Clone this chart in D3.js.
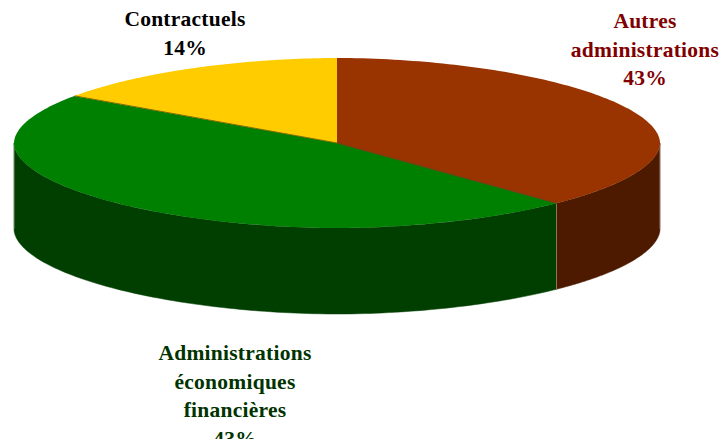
<!DOCTYPE html>
<html><head><meta charset="utf-8">
<script src="https://cdn.jsdelivr.net/npm/d3@7"></script>
<style>html,body{margin:0;padding:0;background:#fff}svg{display:block}</style>
</head><body><svg id="c" width="723" height="439"></svg>
<script>
const categories = ["Autres administrations", "Administrations économiques financières", "Contractuels"];
const values = [43, 43, 14];
const topColors = ["#993300", "#008000", "#FFCC00"];
const sideColors = ["#4D1A00", "#003F00", "#806600"];
const labelColors = ["#800000", "#003300", "#000000"];
const labelLines = [["Autres", "administrations", "43%"], ["Administrations", "économiques", "financières", "43%"], ["Contractuels", "14%"]];
const labelPos = [[645, 28], [235, 360], [185, 26]];
const drawnAngles = [0, 136.2, 304.3, 360]; // tilted view: where the slice edges fall on screen

const svg = d3.select("#c");
const cx = 337, cy = 143, rx = 323, ry = 85, depth = 86, n = 1.9;
const arcs = d3.pie().sort(null).value(d => d)(values);
const tau = 2 * Math.PI;
const warp = d3.scaleLinear()
  .domain([0, arcs[0].endAngle, arcs[1].endAngle, tau])
  .range(drawnAngles.map(d => d * Math.PI / 180));

// angle in screen ellipse space -> point on the rim
const rim = (a, dy = 0) => {
  const s = Math.sin(a), c = Math.cos(a);
  const k = Math.pow(Math.pow(Math.abs(s), n) + Math.pow(Math.abs(c), n), -1 / n);
  return [cx + rx * s * k, cy - ry * c * k + dy];
};
const span = (a, b, dy = 0) => d3.range(0, 121).map(i => rim(a + (b - a) * i / 120, dy));
const line = d3.line();

// side walls (only the front half of the rim is visible)
const frontA = Math.PI / 2, frontB = 3 * Math.PI / 2;
arcs.forEach((d, i) => {
  const a = Math.max(warp(d.startAngle), frontA), b = Math.min(warp(d.endAngle), frontB);
  if (b <= a) return;
  const pts = span(a, b).concat(span(b, a, depth));
  svg.append("path").attr("d", line(pts) + "Z").attr("fill", sideColors[i]).attr("stroke", sideColors[i]).attr("stroke-width", 0.5);
});
// light edges on the wall
[[warp(arcs[0].endAngle), "#a9866f"], [frontA, "#b59a88"], [frontB, "#9db09d"]].forEach(([a, col]) => {
  svg.append("path").attr("d", line([rim(a), rim(a, depth)])).attr("stroke", col).attr("stroke-width", 0.8).attr("fill", "none");
});
// top slices
arcs.forEach((d, i) => {
  const pts = [[cx, cy]].concat(span(warp(d.startAngle), warp(d.endAngle)));
  svg.append("path").attr("d", line(pts) + "Z").attr("fill", topColors[i]);
});
// slice separators
[[arcs[0].endAngle, "#6b3a12"], [arcs[1].endAngle, "#7a6a00"]].forEach(([a, col]) => {
  svg.append("path").attr("d", line([[cx, cy], rim(warp(a))])).attr("stroke", col).attr("stroke-width", 1).attr("fill", "none");
});
// labels
labelLines.forEach((lines, i) => {
  const t = svg.append("text").attr("text-anchor", "middle").attr("fill", labelColors[i])
    .attr("font-family", "'Liberation Serif',serif").attr("font-weight", "bold").attr("font-size", 21.5).attr("letter-spacing", 0.25);
  lines.forEach((l, j) => t.append("tspan").attr("x", labelPos[i][0]).attr("y", labelPos[i][1] + j * 28.6).text(l));
});
</script></body></html>
